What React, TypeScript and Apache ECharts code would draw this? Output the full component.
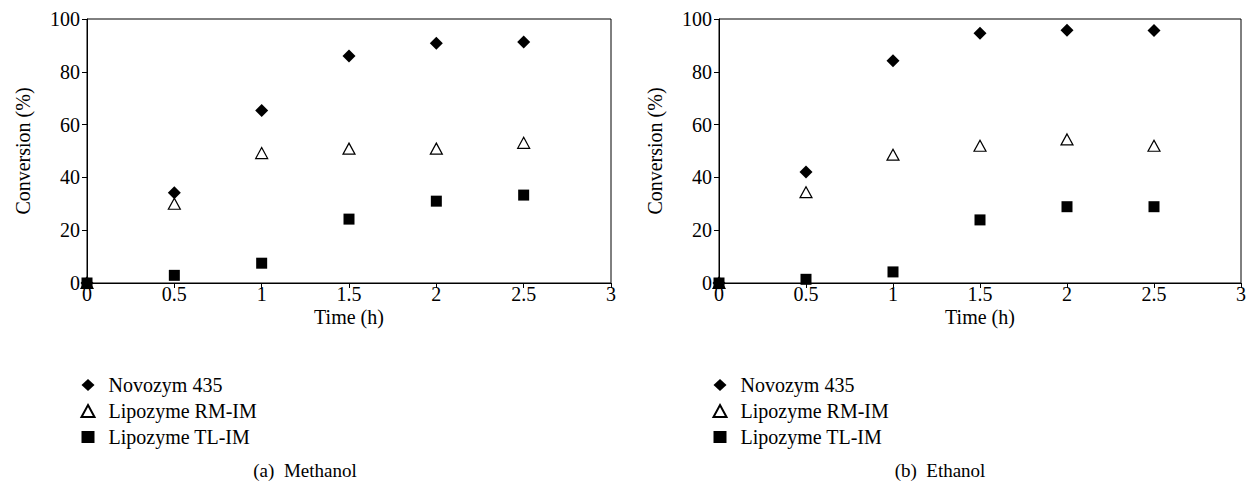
import React, { useEffect, useRef } from "react";
import * as echarts from "echarts";

const timeH = [0, 0.5, 1, 1.5, 2, 2.5];
const seriesNames = ["Novozym 435", "Lipozyme RM-IM", "Lipozyme TL-IM"];
// (a) Methanol
const methNovozym = [0, 34.2, 65.3, 86, 90.8, 91.3];
const methRM = [0, 30, 49.2, 50.9, 50.9, 53.1];
const methTL = [0, 2.9, 7.5, 24.2, 31, 33.3];
// (b) Ethanol
const ethNovozym = [0, 42, 84.2, 94.6, 95.7, 95.6];
const ethRM = [0, 34.4, 48.6, 52, 54.4, 52];
const ethTL = [0, 1.4, 4.2, 23.9, 28.9, 28.9];
const captions = ["(a)  Methanol", "(b)  Ethanol"];
const xTitle = "Time (h)";
const yTitle = "Conversion (%)";

const FONT = "'Liberation Serif', 'Times New Roman', serif";

export default function App() {
  const ref = useRef<HTMLDivElement>(null);
  useEffect(() => {
    if (!ref.current) return;
    const chart = echarts.init(ref.current, undefined, { renderer: "svg" });
    const pair = (vals: number[]) => timeH.map((t, i) => [t, vals[i]]);
    const grids = [
      { left: 87, top: 19, width: 524, height: 264 },
      { left: 719, top: 19, width: 523, height: 264 },
    ];
    const styles = [
      { symbol: "diamond", symbolSize: 13, itemStyle: { color: "#000", opacity: 1 } },
      {
        symbol: "triangle",
        symbolSize: [12, 11],
        itemStyle: { color: "#fff", borderColor: "#000", borderWidth: 1.2, opacity: 1 },
      },
      { symbol: "rect", symbolSize: 11, itemStyle: { color: "#000", opacity: 1 } },
    ];
    const panels = [
      [methNovozym, methRM, methTL],
      [ethNovozym, ethRM, ethTL],
    ];
    const series: any[] = [];
    panels.forEach((p, gi) => {
      [1, 0, 2].forEach((si) => {
        series.push({
          type: "scatter",
          name: seriesNames[si],
          xAxisIndex: gi,
          yAxisIndex: gi,
          data: pair(p[si]),
          clip: false,
          ...styles[si],
        });
      });
    });
    const axisText = { color: "#000", fontFamily: FONT, fontSize: 20 };
    chart.setOption({
      animation: false,
      backgroundColor: "#fff",
      textStyle: { fontFamily: FONT, color: "#000" },
      grid: grids.map((g) => ({
        ...g,
        show: true,
        borderColor: "#000",
        borderWidth: 1,
        backgroundColor: "transparent",
      })),
      title: captions.map((c, i) => ({
        text: c,
        left: i === 0 ? 305 : 940,
        top: 459,
        textAlign: "center",
        padding: 0,
        textStyle: {
          fontFamily: FONT,
          fontSize: 19,
          lineHeight: 22,
          fontWeight: "normal",
          color: "#000",
        },
      })),
      legend: [87, 719].map((cx) => ({
        orient: "vertical",
        left: cx - 6.5,
        top: 375,
        padding: 0,
        itemWidth: 13,
        itemHeight: 12,
        itemGap: 6,
        data: seriesNames,
        selectedMode: false,
        textStyle: {
          fontFamily: FONT,
          fontSize: 20,
          lineHeight: 20,
          color: "#000",
          padding: [0, 0, 0, 9],
        },
      })),
      xAxis: [0, 1].map((i) => ({
        type: "value",
        gridIndex: i,
        min: 0,
        max: 3,
        interval: 0.5,
        name: xTitle,
        nameLocation: "middle",
        nameGap: 26,
        nameMoveOverlap: false,
        nameTextStyle: { ...axisText, lineHeight: 16, verticalAlign: "top" },
        axisLine: { lineStyle: { color: "#000", width: 1 } },
        axisTick: { show: true, inside: false, length: 5, lineStyle: { color: "#000" } },
        axisLabel: { ...axisText, lineHeight: 16, margin: 3 },
        splitLine: { show: false },
      })),
      yAxis: [0, 1].map((i) => ({
        type: "value",
        gridIndex: i,
        min: 0,
        max: 100,
        interval: 20,
        name: yTitle,
        nameLocation: "middle",
        nameGap: 54,
        nameMoveOverlap: false,
        nameTextStyle: axisText,
        axisLine: { show: true, lineStyle: { color: "#000", width: 1 } },
        axisTick: { show: true, inside: false, length: 5, lineStyle: { color: "#000" } },
        axisLabel: { ...axisText, margin: 7 },
        splitLine: { show: false },
      })),
      series,
    });
    return () => chart.dispose();
  }, []);
  return (
    <div
      ref={ref}
      style={{ position: "fixed", left: 0, top: 0, width: 1249, height: 486 }}
    />
  );
}
